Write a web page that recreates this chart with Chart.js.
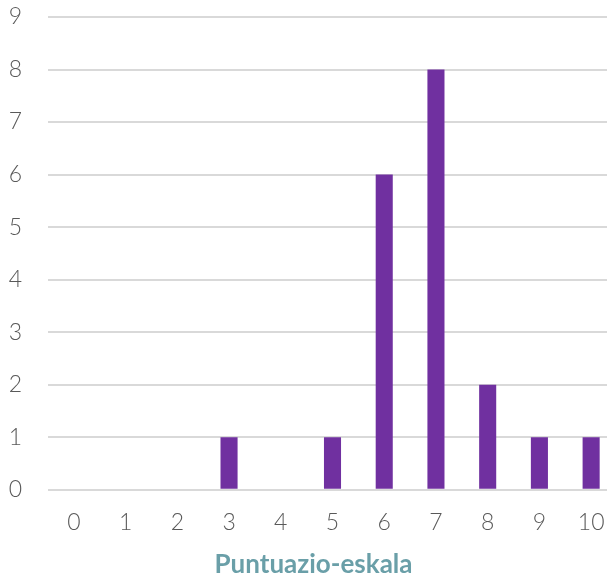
<!DOCTYPE html>
<html><head><meta charset="utf-8">
<script src="https://cdn.jsdelivr.net/npm/chart.js@4"></script>
<style>html,body{margin:0;padding:0;background:#fff;overflow:hidden;width:607px;height:580px}#wrap{width:617px;height:580px}</style>
</head><body><div id="wrap"><canvas id="c"></canvas></div>
<script>
const categories = ["0","1","2","3","4","5","6","7","8","9","10"];
const counts = [0,0,0,1,0,1,6,8,2,1,1];
const yTicks = [0,1,2,3,4,5,6,7,8,9];
const axisTitle = "Puntuazio-eskala";

const shiftTitle = {
  id: 'shiftTitle',
  afterLayout(chart) {
    const t = chart.titleBlock;
    if (t) { t.left += 5; t.right += 5; }
  }
};

new Chart(document.getElementById('c'), {
  type: 'bar',
  data: { labels: categories, datasets: [{ data: counts, backgroundColor: '#7030A0', borderWidth: 0, barPercentage: 0.66, categoryPercentage: 0.5 }] },
  options: {
    responsive: true, maintainAspectRatio: false, animation: false,
    layout: { padding: 0 },
    plugins: {
      legend: { display: false }, tooltip: { enabled: false },
      title: { display: true, position: 'bottom', text: axisTitle, color: '#6A9FA8', font: { family: 'Lato', size: 26, weight: 'bold' }, padding: { top: 0, bottom: 0 } }
    },
    scales: {
      x: {
        afterFit: (ax) => { ax.height = 59; ax.paddingRight = 0; ax.paddingLeft = 0; },
        grid: { display: false, drawTicks: false },
        border: { display: false },
        ticks: { color: '#595959', font: { family: 'Lato', size: 23, weight: 300 }, padding: 19 }
      },
      y: {
        min: 0, max: 9,
        afterFit: (ax) => { ax.width = 48; ax.paddingTop = 17; ax.paddingBottom = 0; },
        afterBuildTicks: (ax) => { ax.ticks = yTicks.map(v => ({ value: v })); },
        grid: { color: '#d9d9d9', lineWidth: 2, drawTicks: false },
        border: { display: false },
        ticks: { color: '#595959', font: { family: 'Lato', size: 23, weight: 300 }, padding: 26 }
      }
    }
  },
  plugins: [shiftTitle]
});
</script></body></html>
